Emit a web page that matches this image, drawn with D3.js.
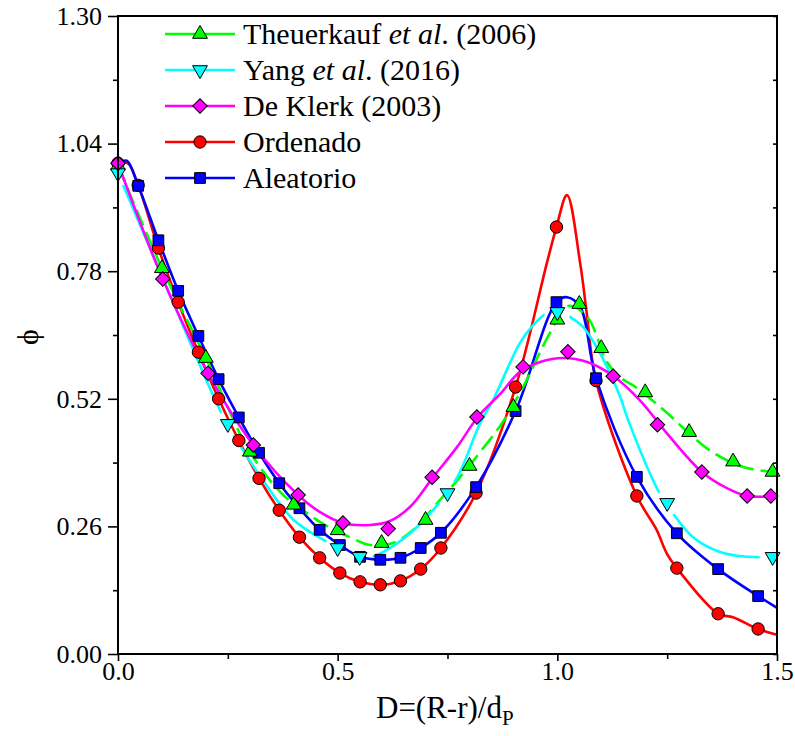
<!DOCTYPE html>
<html>
<head>
<meta charset="utf-8">
<script src="https://cdn.jsdelivr.net/npm/d3@7"></script>
<style>
  body { margin: 0; background: #fff; }
</style>
</head>
<body>
<div id="myGraph"></div>
<script>
var margin = {top: 16, right: 18, bottom: 82, left: 118}
var width = 795 - margin.left - margin.right
var height = 736 - margin.top - margin.bottom
var serif = "Liberation Serif"

// tick labels
var xMajor = [0, 0.5, 1.0, 1.5]
var xMinor = [0.25, 0.75, 1.25]
var yMajor = [0, 0.26, 0.52, 0.78, 1.04, 1.30]
var yMinor = [0.13, 0.39, 0.65, 0.91, 1.17]

// Ordenado (markers + fitted curve)
var ordX = [0, 0.046, 0.092, 0.137, 0.183, 0.229, 0.275, 0.321, 0.367, 0.413, 0.459, 0.505, 0.551, 0.597, 0.643, 0.689, 0.735, 0.815, 0.905, 0.998, 1.088, 1.181, 1.272, 1.366, 1.457]
var ordY = [1.0, 0.955, 0.827, 0.717, 0.615, 0.52, 0.435, 0.358, 0.293, 0.238, 0.196, 0.165, 0.147, 0.141, 0.149, 0.173, 0.216, 0.328, 0.544, 0.870, 0.557, 0.322, 0.175, 0.082, 0.051]
var ordLineX = [0, 0.022, 0.046, 0.092, 0.137, 0.183, 0.229, 0.275, 0.321, 0.367, 0.413, 0.459, 0.505, 0.551, 0.597, 0.643, 0.689, 0.735, 0.815, 0.905, 0.976, 0.998, 1.022, 1.052, 1.067, 1.088, 1.181, 1.226, 1.249, 1.272, 1.366, 1.4, 1.457, 1.5]
var ordLineY = [1.0, 1.0, 0.955, 0.827, 0.717, 0.615, 0.52, 0.435, 0.358, 0.293, 0.238, 0.196, 0.165, 0.147, 0.141, 0.149, 0.173, 0.216, 0.328, 0.544, 0.796, 0.870, 0.935, 0.796, 0.694, 0.557, 0.322, 0.253, 0.205, 0.175, 0.082, 0.075, 0.051, 0.039]

// Aleatorio
var aleX = [0.046, 0.092, 0.137, 0.183, 0.229, 0.275, 0.321, 0.367, 0.413, 0.459, 0.505, 0.551, 0.597, 0.643, 0.689, 0.735, 0.815, 0.905, 0.998, 1.088, 1.181, 1.272, 1.366, 1.457]
var aleY = [0.954, 0.843, 0.740, 0.648, 0.560, 0.482, 0.41, 0.348, 0.297, 0.253, 0.222, 0.198, 0.192, 0.196, 0.216, 0.247, 0.34, 0.495, 0.717, 0.562, 0.361, 0.246, 0.173, 0.118]
var aleLineX = [0, 0.02, 0.046, 0.092, 0.137, 0.183, 0.229, 0.275, 0.321, 0.367, 0.413, 0.459, 0.505, 0.551, 0.597, 0.643, 0.689, 0.735, 0.815, 0.905, 0.998, 1.022, 1.052, 1.088, 1.181, 1.272, 1.366, 1.457, 1.5]
var aleLineY = [1.0, 1.005, 0.954, 0.843, 0.740, 0.648, 0.560, 0.482, 0.41, 0.348, 0.297, 0.253, 0.222, 0.198, 0.192, 0.196, 0.216, 0.247, 0.34, 0.495, 0.717, 0.727, 0.707, 0.562, 0.361, 0.246, 0.173, 0.118, 0.094]

// Theuerkauf et al. (2006)
var theX = [0, 0.1, 0.2, 0.3, 0.4, 0.5, 0.6, 0.7, 0.8, 0.9, 1.0, 1.05, 1.1, 1.2, 1.3, 1.4, 1.49]
var theY = [0.995, 0.786, 0.603, 0.412, 0.304, 0.252, 0.226, 0.273, 0.383, 0.503, 0.681, 0.713, 0.623, 0.533, 0.452, 0.392, 0.371]
var theLineX = [0, 0.1, 0.2, 0.3, 0.376, 0.43, 0.475, 0.528, 0.574, 0.626, 0.672, 0.733, 0.778, 0.824, 0.876, 0.922, 0.983, 1.024, 1.068, 1.113, 1.143, 1.181, 1.25, 1.309, 1.355, 1.423, 1.5]
var theLineY = [0.995, 0.786, 0.603, 0.412, 0.324, 0.287, 0.261, 0.238, 0.222, 0.226, 0.253, 0.314, 0.36, 0.411, 0.473, 0.544, 0.654, 0.709, 0.687, 0.595, 0.564, 0.542, 0.491, 0.442, 0.41, 0.381, 0.37]

// Yang et al. (2016)
var yanX = [0, 0.25, 0.5, 0.55, 0.75, 1.0, 1.25, 1.49]
var yanY = [0.98, 0.469, 0.216, 0.198, 0.328, 0.697, 0.308, 0.198]
var yanLineX = [0, 0.1, 0.232, 0.266, 0.33, 0.40, 0.476, 0.525, 0.574, 0.604, 0.665, 0.717, 0.772, 0.824, 0.854, 0.915, 0.945, 0.977, 1.006, 1.024, 1.059, 1.097, 1.143, 1.161, 1.229, 1.263, 1.309, 1.37, 1.432, 1.5]
var yanLineY = [0.98, 0.77, 0.497, 0.442, 0.354, 0.273, 0.228, 0.205, 0.198, 0.208, 0.246, 0.293, 0.36, 0.47, 0.518, 0.634, 0.67, 0.695, 0.70, 0.69, 0.666, 0.613, 0.524, 0.477, 0.334, 0.287, 0.238, 0.208, 0.198, 0.198]

// De Klerk (2003)
var dekX = [0, 0.102, 0.205, 0.308, 0.41, 0.512, 0.615, 0.715, 0.817, 0.922, 1.024, 1.127, 1.228, 1.329, 1.432, 1.486]
var dekY = [1.0, 0.764, 0.572, 0.426, 0.324, 0.267, 0.255, 0.36, 0.483, 0.585, 0.616, 0.566, 0.467, 0.371, 0.322, 0.322]
var dekLineX = [0, 0.102, 0.205, 0.308, 0.41, 0.46, 0.512, 0.574, 0.619, 0.665, 0.717, 0.772, 0.819, 0.87, 0.915, 0.961, 1.013, 1.068, 1.125, 1.188, 1.249, 1.329, 1.386, 1.432, 1.5]
var dekLineY = [1.0, 0.764, 0.572, 0.426, 0.324, 0.289, 0.267, 0.263, 0.271, 0.30, 0.36, 0.422, 0.483, 0.53, 0.575, 0.595, 0.603, 0.595, 0.568, 0.517, 0.45, 0.371, 0.338, 0.322, 0.322]

var zip = function(xs, ys) { return xs.map(function(d, i) { return [d, ys[i]] }) }

// gap: the line breaks around its own symbols (Yang curve)
var series = [
  {name: "ord", color: "#ff0000", shape: "circle", line: zip(ordLineX, ordLineY), pts: zip(ordX, ordY), dash: null, gap: 0},
  {name: "ale", color: "#0000ff", shape: "square", line: zip(aleLineX, aleLineY), pts: zip(aleX, aleY), dash: null, gap: 0},
  {name: "the", color: "#00ff00", shape: "up", line: zip(theLineX, theLineY), pts: zip(theX, theY), dash: "17,7", gap: 0},
  {name: "yan", color: "#00ffff", shape: "down", line: zip(yanLineX, yanLineY), pts: zip(yanX, yanY), dash: null, gap: 13},
  {name: "dek", color: "#ff00ff", shape: "diamond", line: zip(dekLineX, dekLineY), pts: zip(dekX, dekY), dash: null, gap: 0}
]

var svg = d3.select("#myGraph").append("svg")
  .attr("width", 795).attr("height", 736)
  .append("g")
  .attr("transform", "translate(" + margin.left + "," + margin.top + ")")

var x = d3.scaleLinear().domain([0, 1.5]).range([0, width])
var y = d3.scaleLinear().domain([0, 1.30]).range([height, 0])

var defs = svg.append("defs")
defs.append("clipPath").attr("id", "clip")
  .append("rect").attr("width", width).attr("height", height)

var symbolPath = function(shape) {
  if (shape == "circle") return d3.symbol().type(d3.symbolCircle).size(120)()
  if (shape == "square") return d3.symbol().type(d3.symbolSquare).size(115)()
  if (shape == "diamond") return d3.symbol().type(d3.symbolSquare).size(105)()
  return d3.symbol().type(d3.symbolTriangle).size(95)()
}
var symbolRot = function(shape) {
  if (shape == "diamond") return 45
  if (shape == "down") return 180
  return 0
}

var line = d3.line()
  .x(function(d) { return x(d[0]) })
  .y(function(d) { return y(d[1]) })
  .curve(d3.curveCatmullRom.alpha(0.5))

// curves
series.forEach(function(s) {
  var g = svg.append("g").attr("clip-path", "url(#clip)")
  var p = g.append("path")
    .datum(s.line)
    .attr("d", line)
    .style("fill", "none")
    .style("stroke", s.color)
    .attr("stroke-width", 2.6)
    .attr("stroke-dasharray", s.dash)
  if (s.gap > 0) {
    var m = defs.append("mask").attr("id", "gap-" + s.name)
      .attr("maskUnits", "userSpaceOnUse")
      .attr("x", -20).attr("y", -20).attr("width", width + 40).attr("height", height + 40)
    m.append("rect").attr("x", -20).attr("y", -20)
      .attr("width", width + 40).attr("height", height + 40).attr("fill", "#fff")
    m.selectAll("circle").data(s.pts).enter().append("circle")
      .attr("cx", function(d) { return x(d[0]) })
      .attr("cy", function(d) { return y(d[1]) })
      .attr("r", s.gap).attr("fill", "#000")
    p.attr("mask", "url(#gap-" + s.name + ")")
  }
})

// markers
series.forEach(function(s) {
  svg.selectAll(".m-" + s.name)
    .data(s.pts)
    .enter().append("path")
    .attr("class", "m-" + s.name)
    .attr("d", symbolPath(s.shape))
    .attr("transform", function(d) {
      return "translate(" + x(d[0]) + "," + y(d[1]) + ") rotate(" + symbolRot(s.shape) + ")"
    })
    .style("fill", s.color)
    .style("stroke", "#000")
    .attr("stroke-width", 1)
})

// axes
var axisFont = function(g) {
  g.attr("font-family", serif).attr("font-size", 26)
  g.selectAll("text").attr("fill", "#000")
  g.select(".domain").remove()
  g.selectAll("line").attr("stroke-width", 1.6)
}
var gx = svg.append("g").attr("transform", "translate(0," + height + ")")
  .call(d3.axisBottom(x).tickValues(xMajor).tickFormat(d3.format(".1f")).tickSize(7).tickPadding(1))
axisFont(gx)
var gx2 = svg.append("g").attr("transform", "translate(0," + height + ")")
  .call(d3.axisBottom(x).tickValues(xMinor).tickFormat("").tickSize(5))
axisFont(gx2)
var gy = svg.append("g")
  .call(d3.axisLeft(y).tickValues(yMajor).tickFormat(d3.format(".2f")).tickSize(10).tickPadding(6))
axisFont(gy)
var gy2 = svg.append("g")
  .call(d3.axisLeft(y).tickValues(yMinor).tickFormat("").tickSize(5))
axisFont(gy2)
var gr = svg.append("g").attr("transform", "translate(" + width + ",0)")
  .call(d3.axisRight(y).tickValues(yMajor.concat(yMinor)).tickFormat("").tickSize(-4))
axisFont(gr)

// frame
svg.append("rect")
  .attr("width", width).attr("height", height)
  .style("fill", "none").style("stroke", "#000").attr("stroke-width", 2)

// axis titles
var xt = svg.append("text")
  .attr("x", 258).attr("y", height + 64)
  .attr("font-family", serif).attr("font-size", 31)
xt.append("tspan").text("D=(R-r)/d")
xt.append("tspan").text("P").attr("dy", 7).attr("font-size", 21)

svg.append("text")
  .attr("transform", "translate(" + (-80) + "," + (y(0.65) + 2) + ") rotate(-90)")
  .attr("text-anchor", "middle")
  .attr("font-family", serif).attr("font-size", 30)
  .text("\u03d5")

// legend: Theuerkauf, Yang, De Klerk, Ordenado, Aleatorio
var legOrder = [2, 3, 4, 0, 1]
var legLabels = [
  ["Theuerkauf ", "et al", ". (2006)"],
  ["Yang ", "et al", ". (2016)"],
  ["De Klerk (2003)"],
  ["Ordenado"],
  ["Aleatorio"]
]
var leg = svg.append("g").attr("transform", "translate(47,18)")
legOrder.forEach(function(si, i) {
  var s = series[si]
  var row = leg.append("g").attr("transform", "translate(0," + (i * 36) + ")")
  row.append("line").attr("x1", 0).attr("x2", 70)
    .style("stroke", s.color).attr("stroke-width", 2.6)
  row.append("path").attr("d", symbolPath(s.shape))
    .attr("transform", "translate(35,0) rotate(" + symbolRot(s.shape) + ")")
    .style("fill", s.color).style("stroke", "#000").attr("stroke-width", 1)
  var t = row.append("text").attr("x", 78).attr("y", 10)
    .attr("font-family", serif).attr("font-size", 30)
  legLabels[i].forEach(function(part, j) {
    t.append("tspan").text(part).attr("font-style", j == 1 ? "italic" : "normal")
  })
})
</script>
</body>
</html>
